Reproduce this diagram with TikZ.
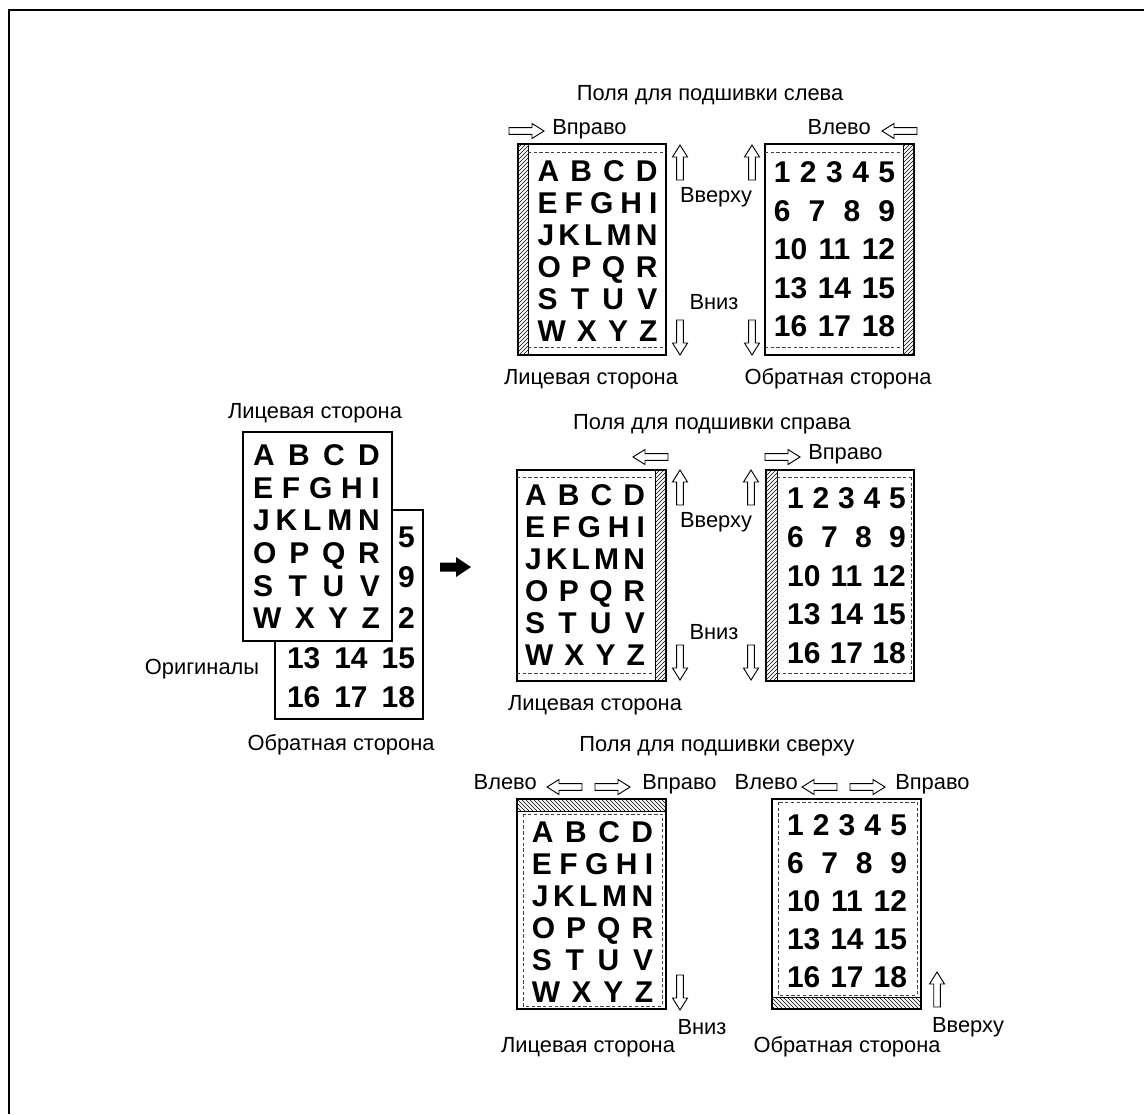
\documentclass[tikz,border=0pt]{standalone}
\usepackage{fontspec}
\setmainfont{Liberation Sans}
\usetikzlibrary{patterns}
\newcommand\letterrows[5]{%
  \foreach \t [count=\i from 0] in {{A\hfill B\hfill C\hfill D},{E\hfill F\hfill G\hfill H\hfill I},{J\hfill K\hfill L\hfill M\hfill N},{O\hfill P\hfill Q\hfill R},{S\hfill T\hfill U\hfill V},{W\hfill X\hfill Y\hfill Z}}
    {\node[big] (#1-\i) at (#2,#3+#4*\i) {\makebox[#5pt][s]{\t}};}}
\newcommand\numrows[5]{%
  \foreach \t [count=\i from 0] in {{1\hfill 2\hfill 3\hfill 4\hfill 5},{6\hfill 7\hfill 8\hfill 9},{10\hfill 11\hfill 12},{13\hfill 14\hfill 15},{16\hfill 17\hfill 18}}
    {\node[big] (#1-\i) at (#2,#3+#4*\i) {\makebox[#5pt][s]{\t}};}}
\tikzset{
  lbl/.style={font=\fontsize{16.4}{19}\selectfont, inner sep=0pt, text height=11.7pt, text depth=0pt},
  big/.style={font=\bfseries\fontsize{22.5}{26}\selectfont, inner sep=0pt, text height=16.1pt, text depth=0pt},
  pg/.style={draw, line width=1pt, fill=white},
  hatchne/.style={draw, line width=0.6pt, pattern=north east lines},
  hatchnw/.style={draw, line width=0.6pt, pattern=north west lines},
  dashln/.style={dash pattern=on 2.5pt off 1.8pt, line width=0.5pt, black!75},
  hollow/.pic={\draw[line width=0.7pt,fill=white] (0,-3.3)--(23,-3.3)--(23,-7.5)--(35,0)--(23,7.5)--(23,3.3)--(0,3.3)--cycle;}
}
\begin{document}
\begin{tikzpicture}[x=0.75pt,y=-0.75pt]
\useasboundingbox (0,0) rectangle (1144,1114);
\draw[line width=1.5pt] (9,1114) -- (9,10) -- (1144,10);

% ---------- top pair ----------
\node[lbl] (t1) at (710,93) {Поля для подшивки слева};
\node[lbl,anchor=west] (r1) at (552,127) {Вправо};
\pic at (509,131) {hollow};
\node[lbl,anchor=east] (l1) at (871,127) {Влево};
\pic[rotate=180] at (917,131) {hollow};
\draw[pg] (518,144) rectangle (666,355);
\draw[hatchne] (518,144) rectangle (528,355);
\draw[dashln] (528,152)--(666,152) (528,347)--(666,347);
\letterrows{tl}{597.5}{171}{32}{90}
\draw[pg] (765,144) rectangle (914,355);
\draw[hatchne] (903,144) rectangle (914,355);
\draw[dashln] (765,152)--(903,152) (765,347)--(903,347);
\numrows{tr}{834.5}{172}{38.5}{91}
\pic[rotate=90] at (680,180) {hollow};
\pic[rotate=-90] at (680,320) {hollow};
\pic[rotate=90] at (752,180) {hollow};
\pic[rotate=-90] at (752,320) {hollow};
\node[lbl] (up1) at (716,195) {Вверху};
\node[lbl] (dn1) at (714,302) {Вниз};
\node[lbl] (f1) at (591,377) {Лицевая сторона};
\node[lbl] (b1) at (838,377) {Обратная сторона};

% ---------- middle pair ----------
\node[lbl] (t2) at (712,422) {Поля для подшивки справа};
\pic[rotate=180] at (668,457) {hollow};
\draw[pg] (517,470) rectangle (666,681);
\draw[hatchne] (655,470) rectangle (666,681);
\draw[dashln] (517,477)--(655,477) (517,673)--(655,673);
\letterrows{ml}{585}{495}{32}{90}
\pic[rotate=90] at (680,505) {hollow};
\pic[rotate=-90] at (680,645) {hollow};
\pic[rotate=90] at (751,505) {hollow};
\pic[rotate=-90] at (751,645) {hollow};
\node[lbl] (up2) at (716,520) {Вверху};
\node[lbl] (dn2) at (714,632) {Вниз};
\draw[pg] (766,470) rectangle (914,681);
\draw[hatchne] (766,470) rectangle (777,681);
\draw[dashln] (777,477)--(914,477) (777,673)--(914,673) (911,477)--(911,673);
\pic at (765,457) {hollow};
\node[lbl,anchor=west] (r2) at (808,452) {Вправо};
\numrows{mr}{846.5}{498}{38.7}{89}
\node[lbl] (f2) at (595,703) {Лицевая сторона};

% ---------- bottom pair ----------
\node[lbl] (t3) at (717,744) {Поля для подшивки сверху};
\node[lbl,anchor=east] (l3) at (537,782) {Влево};
\pic[rotate=180] at (582,787) {hollow};
\pic at (595,787) {hollow};
\node[lbl,anchor=west] (r3) at (642,782) {Вправо};
\draw[pg] (517,799) rectangle (666,1009);
\draw[hatchnw] (517,799) rectangle (666,811);
\draw[dashln] (523,814) rectangle (662,1006);
\letterrows{bl}{592.5}{832}{32}{91}
\pic[rotate=-90] at (680,975) {hollow};
\node[lbl] (dn3) at (702,1027) {Вниз};
\node[lbl] (f3) at (588,1045) {Лицевая сторона};
\draw[pg] (772,799) rectangle (921,1009);
\draw[hatchnw] (772,997) rectangle (921,1009);
\draw[dashln] (778,802) rectangle (917,995);
\node[lbl,anchor=east] (l4) at (798,782) {Влево};
\pic[rotate=180] at (837,787) {hollow};
\pic at (850,787) {hollow};
\node[lbl,anchor=west] (r4) at (895,782) {Вправо};
\numrows{br}{847}{825}{38}{90}
\pic[rotate=90] at (937,1007) {hollow};
\node[lbl] (up3) at (968,1025) {Вверху};
\node[lbl] (b3) at (847,1045) {Обратная сторона};

% ---------- originals ----------
\node[lbl] (of) at (315,411) {Лицевая сторона};
\draw[pg] (275,510) rectangle (423,719);
\node[big,anchor=east] (bk5) at (415,537) {5};
\node[big,anchor=east] (bk9) at (415,577) {9};
\node[big,anchor=east] (bk2) at (415,618) {2};
\node[big] (bk3) at (351,658) {\makebox[96pt][s]{13\hfill 14\hfill 15}};
\node[big] (bk4) at (351,697) {\makebox[96pt][s]{16\hfill 17\hfill 18}};
\draw[pg] (243,432) rectangle (392,641);
\letterrows{fr}{316.5}{455}{32.6}{95}
\node[lbl] (orig) at (202,667) {Оригиналы};
\node[lbl] (ob) at (341,743) {Обратная сторона};
\fill (440,562.5) -- (456,562.5) -- (456,557) -- (471,567) -- (456,577) -- (456,571.5) -- (440,571.5) -- cycle;
\end{tikzpicture}
\end{document}
